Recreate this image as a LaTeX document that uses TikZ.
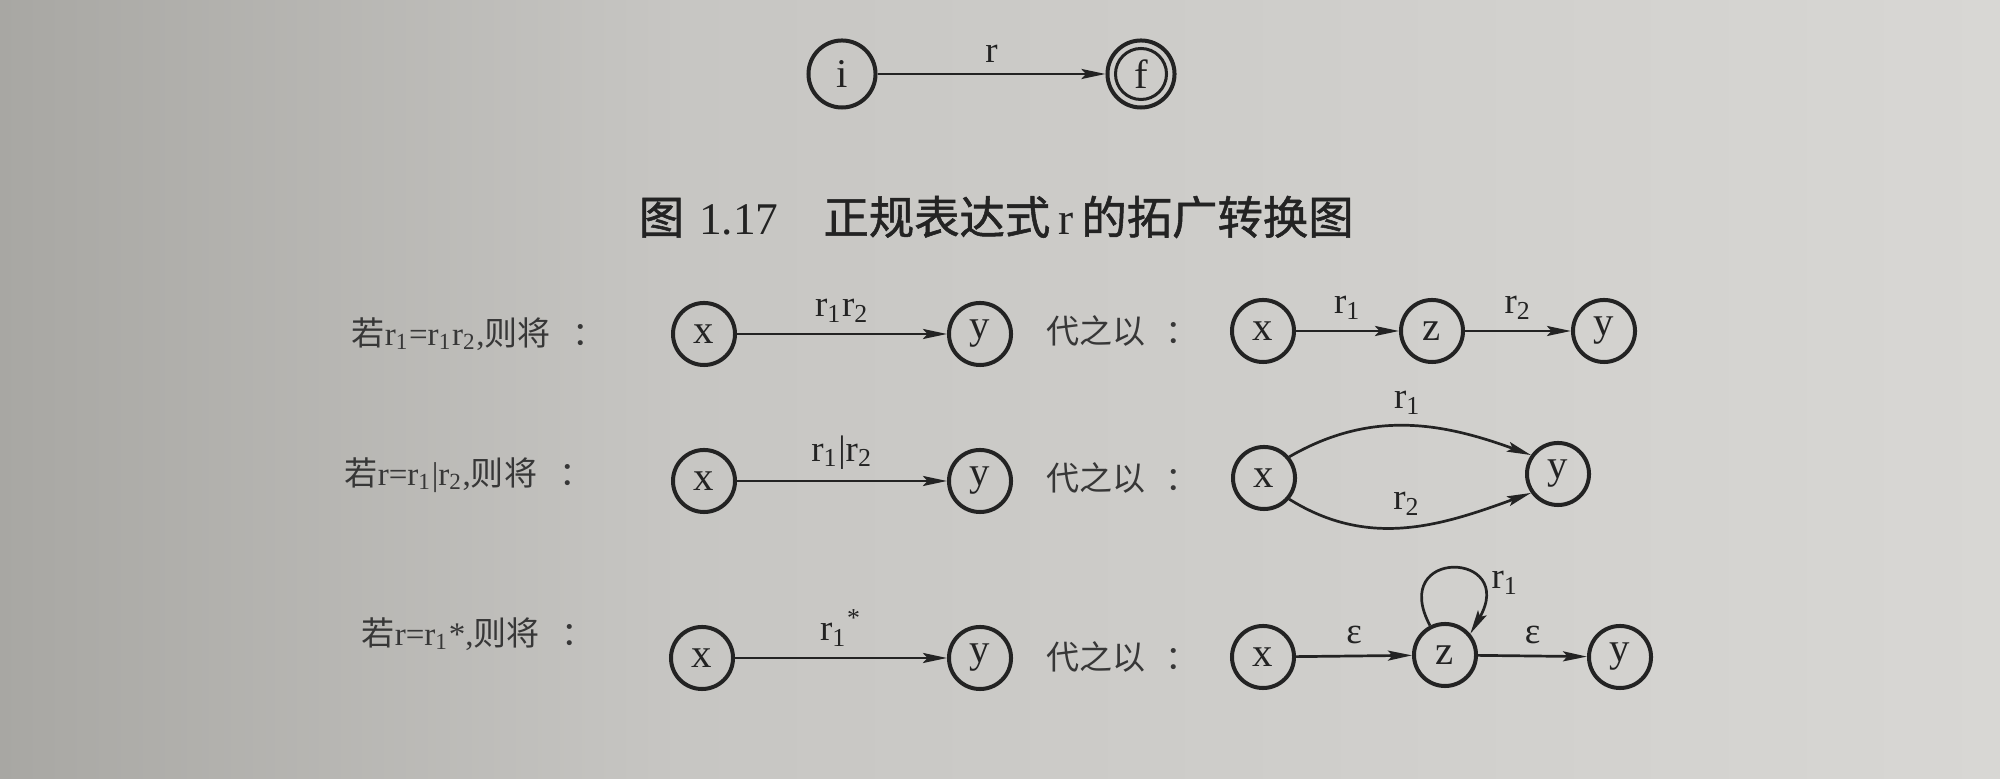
\documentclass[tikz,border=0pt]{standalone}
\usepackage{fontspec}
\setmainfont{Liberation Serif}
\newfontfamily\cjk{Noto Sans CJK SC}
\newfontfamily\cjkb{Noto Sans CJK SC}[FakeBold=1.2]
\usetikzlibrary{arrows.meta}
\definecolor{bgL}{RGB}{168,167,163}
\definecolor{bgM}{RGB}{199,198,195}
\definecolor{bgR}{RGB}{216,215,212}
\definecolor{ink}{RGB}{35,35,35}
\definecolor{txt}{RGB}{55,55,55}
\pgfdeclarehorizontalshading{paper}{100bp}{color(0bp)=(bgL); color(25bp)=(bgL); color(42bp)=(bgM); color(75bp)=(bgR); color(100bp)=(bgR)}
\begin{document}
\begin{tikzpicture}[x=0.01cm,y=0.01cm,
  state/.style={circle, draw=ink, line width=0.04cm, minimum size=0.62cm, inner sep=0pt, font=\fontsize{11.6}{12}\selectfont, text=ink},
  bigstate/.style={state, minimum size=0.67cm},
  edge/.style={draw=ink, line width=0.027cm, -{Stealth[length=0.24cm,width=0.1cm,inset=0.045cm]}},
  elab/.style={font=\fontsize{10.5}{12}\selectfont, text=ink, inner sep=0pt},
  rowlab/.style={font=\fontsize{9.4}{11}\selectfont, text=txt, anchor=west, inner sep=0pt},
]
\shade[shading=paper] (0,0) rectangle (2000,779);
\useasboundingbox (0,0) rectangle (2000,779);

% top
\node[bigstate] (i) at (842,705) {i};
\node[bigstate] (f) at (1141,705) {f};
\draw[ink, line width=0.03cm] (f) circle (0.255cm);
\draw[edge] (i) -- node[elab, above=3pt] {r} (f);

% caption
\node[anchor=west, inner sep=0pt, font=\fontsize{12.9}{14}\selectfont, text=ink] (cap) at (638,562)
  {{\cjkb 图}\hspace{0.15cm}1.17\hspace{0.45cm}{\cjkb 正规表达式}\hspace{0.08cm}r\hspace{0.08cm}{\cjkb 的拓广转换图}};

% row 1
\node[rowlab] (L1) at (351,445) {{\cjk 若}r\textsubscript{1}=r\textsubscript{1}r\textsubscript{2},{\cjk 则将}\hspace{0.22cm}{\cjk ：}};
\node[state] (a1) at (704,445) {x};
\node[state] (b1) at (980,445) {y};
\draw[edge] (a1) -- node[elab, above=3pt] {r\textsubscript{1}r\textsubscript{2}} (b1);
\node[rowlab] (R1) at (1046,448) {{\cjk 代之以}\hspace{0.2cm}{\cjk ：}};
\node[state] (c1) at (1263,448) {x};
\node[state] (d1) at (1432,448) {z};
\node[state] (e1) at (1604,448) {y};
\draw[edge] (c1) -- node[elab, above=3pt] {r\textsubscript{1}} (d1);
\draw[edge] (d1) -- node[elab, above=3pt] {r\textsubscript{2}} (e1);

% row 2
\node[rowlab] (L2) at (344,304) {{\cjk 若}r=r\textsubscript{1}|r\textsubscript{2},{\cjk 则将}\hspace{0.22cm}{\cjk ：}};
\node[state] (a2) at (704,298) {x};
\node[state] (b2) at (980,298) {y};
\draw[edge] (a2) -- node[elab, above=3pt] {r\textsubscript{1}|r\textsubscript{2}} (b2);
\node[rowlab] (R2) at (1046,301) {{\cjk 代之以}\hspace{0.2cm}{\cjk ：}};
\node[state] (c2) at (1264,301) {x};
\node[state] (e2) at (1558,305) {y};
\draw[edge] (c2.40) to[out=30,in=160] node[elab, above=3pt] {r\textsubscript{1}} (e2.145);
\draw[edge] (c2.-40) to[out=-32,in=-160] node[elab, above=3pt] {r\textsubscript{2}} (e2.-145);

% row 3
\node[rowlab] (L3) at (361,145) {{\cjk 若}r=r\textsubscript{1}*,{\cjk 则将}\hspace{0.22cm}{\cjk ：}};
\node[state] (a3) at (702,121) {x};
\node[state] (b3) at (980,121) {y};
\draw[edge] (a3) -- node[elab, above=3pt] {r\textsubscript{1}\textsuperscript{*}} (b3);
\node[rowlab] (R3) at (1046,122) {{\cjk 代之以}\hspace{0.2cm}{\cjk ：}};
\node[state] (c3) at (1263,122) {x};
\node[state] (d3) at (1445,124) {z};
\node[state] (e3) at (1620,122) {y};
\draw[edge] (c3) -- node[elab, above=3pt] {ε} (d3);
\draw[edge] (d3) -- node[elab, above=3pt] {ε} (e3);
\draw[edge] (d3.117) .. controls (1388,232) and (1518,228) .. (d3.40);
\node[elab] (lr) at (1505,196) {r\textsubscript{1}};
\end{tikzpicture}
\end{document}
